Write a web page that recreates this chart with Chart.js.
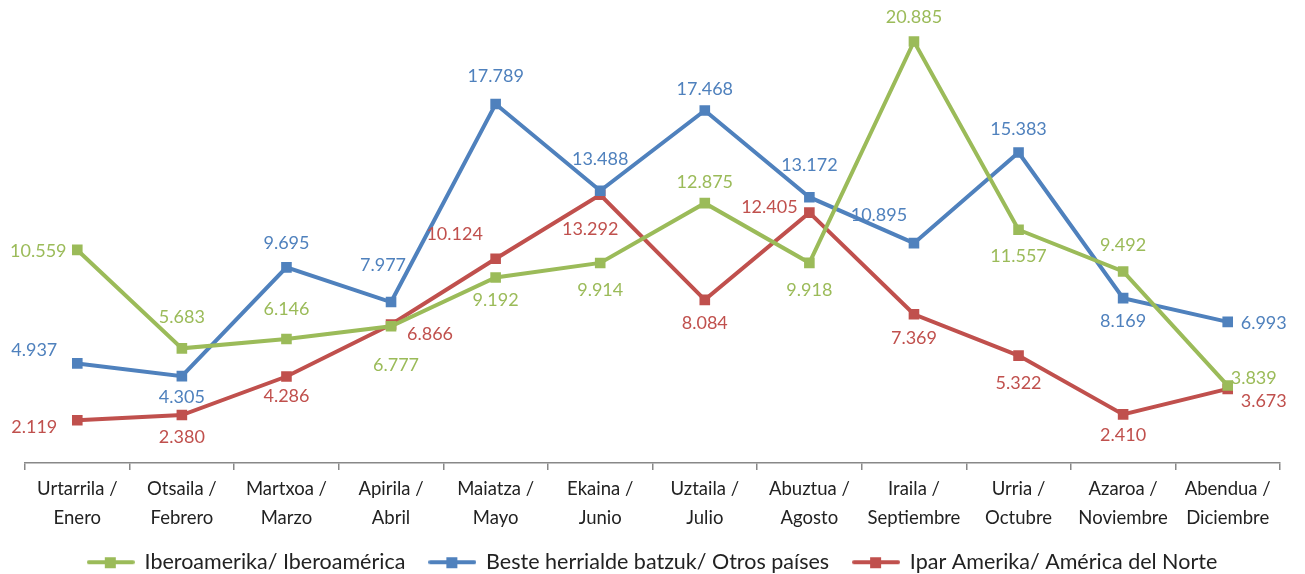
<!DOCTYPE html>
<html>
<head>
<meta charset="utf-8">
<script src="https://cdn.jsdelivr.net/npm/chart.js@4/dist/chart.umd.min.js"></script>
<style>
  html, body { margin: 0; padding: 0; background: #fff; }
  #wrap { width: 1305px; height: 574px; }
</style>
</head>
<body>
<div id="wrap"><canvas id="chart"></canvas></div>
<script>
const months = [
  ["Urtarrila /", "Enero"], ["Otsaila /", "Febrero"], ["Martxoa /", "Marzo"],
  ["Apirila /", "Abril"], ["Maiatza /", "Mayo"], ["Ekaina /", "Junio"],
  ["Uztaila /", "Julio"], ["Abuztua /", "Agosto"], ["Iraila /", "Septiembre"],
  ["Urria /", "Octubre"], ["Azaroa /", "Noviembre"], ["Abendua /", "Diciembre"]
];
const iberoamerika = [10.559, 5.683, 6.146, 6.777, 9.192, 9.914, 12.875, 9.918, 20.885, 11.557, 9.492, 3.839];
const besteHerrialdeak = [4.937, 4.305, 9.695, 7.977, 17.789, 13.488, 17.468, 13.172, 10.895, 15.383, 8.169, 6.993];
const iparAmerika = [2.119, 2.380, 4.286, 6.866, 10.124, 13.292, 8.084, 12.405, 7.369, 5.322, 2.410, 3.673];

const seriesNames = ["Iberoamerika/ Iberoamérica", "Beste herrialde batzuk/ Otros países", "Ipar Amerika/ América del Norte"];
const colors = ["#9BBB59", "#4F81BD", "#C0504D"];

// label offsets (dx, dy) from each point, in px
const labelOffsets = [
  [[-39, 1], [0, -31], [0, -30], [5, 39], [0, 23], [0, 27], [0, -21], [0, 27], [0, -24], [0, 26], [0, -26], [26, -7]],
  [[-43, -13], [0, 21], [0, -24], [-8, -37], [0, -28], [0, -32], [0, -21], [0, -32], [-35, -28], [0, -23], [0, 23], [36, 1]],
  [[-43, 7], [0, 22], [0, 20], [39, 10], [-41, -25], [-10, 34], [0, 23], [-40, -5], [0, 24], [0, 28], [0, 21], [36, 12]]
];

function legendIcon(color) {
  const c = document.createElement("canvas");
  c.width = 48; c.height = 14;
  const g = c.getContext("2d");
  g.strokeStyle = color; g.lineWidth = 4; g.lineCap = "round";
  g.beginPath(); g.moveTo(2, 7); g.lineTo(46, 7); g.stroke();
  g.fillStyle = color; g.fillRect(18, 2, 11, 11);
  return c;
}
const icons = colors.map(legendIcon);

const valueLabels = {
  id: "valueLabels",
  afterDatasetsDraw(chart) {
    const ctx = chart.ctx;
    ctx.save();
    ctx.font = "18px Lato";
    ctx.textAlign = "center";
    ctx.textBaseline = "middle";
    chart.data.datasets.forEach((ds, i) => {
      const meta = chart.getDatasetMeta(i);
      meta.data.forEach((pt, j) => {
        const off = labelOffsets[i][j];
        ctx.fillStyle = colors[i];
        ctx.fillText(ds.data[j].toFixed(3), pt.x + off[0], pt.y + off[1]);
      });
    });
    ctx.restore();
  }
};

const datasets = [iberoamerika, besteHerrialdeak, iparAmerika].map((d, i) => ({
  label: seriesNames[i],
  data: d,
  borderColor: colors[i],
  backgroundColor: colors[i],
  borderWidth: 4,
  pointStyle: "rect",
  pointRadius: 7.5,
  pointBorderWidth: 0,
  tension: 0
}));

new Chart(document.getElementById("chart"), {
  type: "line",
  data: { labels: months, datasets },
  plugins: [valueLabels],
  options: {
    responsive: true,
    maintainAspectRatio: false,
    animation: false,
    layout: { padding: { top: 19, left: 25, right: 25, bottom: -9 } },
    plugins: {
      tooltip: { enabled: false },
      legend: {
        position: "bottom",
        labels: {
          usePointStyle: true,
          pointStyleWidth: 46,
          color: "#222",
          font: { family: "Lato", size: 21.5 },
          padding: 24,
          generateLabels: chart => chart.data.datasets.map((ds, i) => ({
            text: ds.label,
            pointStyle: icons[i],
            fillStyle: colors[i],
            strokeStyle: colors[i],
            lineWidth: 0,
            fontColor: "#222",
            datasetIndex: i,
            hidden: false
          }))
        }
      }
    },
    scales: {
      x: {
        offset: true,
        afterFit: scale => { scale.height -= 9; },
        grid: { drawOnChartArea: false, drawTicks: true, tickLength: 7, offset: true, color: "#888", lineWidth: 1.5 },
        border: { color: "#888", width: 1.5 },
        ticks: { color: "#222", font: { family: "Lato", size: 18.5, lineHeight: 1.58 }, maxRotation: 0, autoSkip: false, padding: 4 }
      },
      y: {
        display: false,
        min: 0,
        max: 22
      }
    }
  }
});
</script>
</body>
</html>
